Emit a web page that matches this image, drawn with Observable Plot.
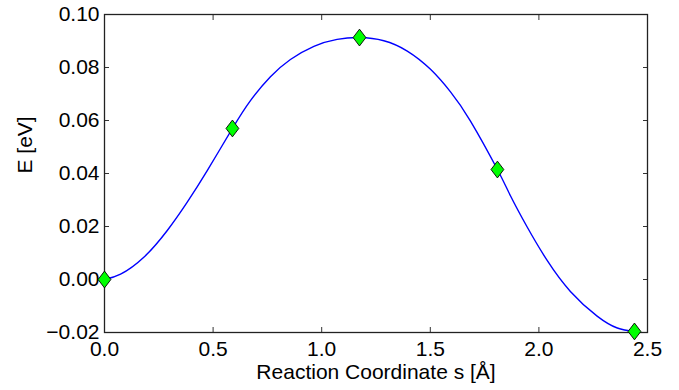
<!DOCTYPE html>
<html>
<head>
<meta charset="utf-8">
<script src="https://cdn.jsdelivr.net/npm/d3@7"></script>
<script src="https://cdn.jsdelivr.net/npm/@observablehq/plot@0.6"></script>
<style>
  html, body { margin: 0; padding: 0; background: #fff; }
  #chart svg { display: block; }
</style>
</head>
<body>
<div id="chart"></div>
<script>
// NEB images
const imageS = [0, 0.589, 1.174, 1.809, 2.44];
const imageE = [0, 0.057, 0.0913, 0.0415, -0.0196];
// interpolated energy path
const curveS = [0.074, 0.181, 0.289, 0.381, 0.473, 0.672, 0.764, 0.856, 0.964, 1.071, 1.286, 1.394, 1.501, 1.593, 1.685, 1.869, 1.946, 2.038, 2.145, 2.268, 2.361];
const curveE = [0.0020, 0.0084, 0.0185, 0.0292, 0.0411, 0.0675, 0.0765, 0.0830, 0.0880, 0.0906, 0.0901, 0.0862, 0.0793, 0.0708, 0.0598, 0.0316, 0.0198, 0.0072, -0.0045, -0.0138, -0.0183];
const xTicks = [0, 0.5, 1.0, 1.5, 2.0, 2.5];
const yTicks = [-0.02, 0, 0.02, 0.04, 0.06, 0.08, 0.10];
const xLabel = "Reaction Coordinate s [Å]";
const yLabel = "E [eV]";

const images = imageS.map((s, i) => ({s, e: imageE[i]}));
const path = images.concat(curveS.map((s, i) => ({s, e: curveE[i]})))
  .sort((a, b) => a.s - b.s);

const diamond = {
  draw(ctx, size) {
    const w = 6.4, h = 8.4;
    ctx.moveTo(0, -h); ctx.lineTo(w, 0); ctx.lineTo(0, h); ctx.lineTo(-w, 0); ctx.closePath();
  }
};

const FONT = "'Liberation Sans', Arial, Helvetica, sans-serif";
const chart = Plot.plot({
  width: 679,
  height: 390,
  marginLeft: 104,
  marginRight: 32,
  marginTop: 14,
  marginBottom: 58,
  style: {fontFamily: FONT, fontSize: "21px", color: "#000", background: "#fff"},
  x: {domain: [0, 2.5]},
  y: {domain: [-0.02, 0.10]},
  marks: [
    Plot.axisX({anchor: "bottom", ticks: xTicks, tickSize: -5, tickPadding: 14, tickFormat: d3.format(".1f"), label: null, stroke: "#333", fontSize: 21}),
    Plot.axisX({anchor: "top", ticks: xTicks, tickSize: -5, tickFormat: () => "", label: null, stroke: "#333"}),
    Plot.axisY({anchor: "left", ticks: yTicks, tickSize: -5, tickPadding: 10, tickFormat: d3.format(".2f"), label: null, stroke: "#333", fontSize: 21}),
    Plot.axisY({anchor: "right", ticks: yTicks, tickSize: -5, tickFormat: () => "", label: null, stroke: "#333"}),
    Plot.frame({stroke: "#222", strokeWidth: 1.3}),
    Plot.line(path, {x: "s", y: "e", curve: "natural", stroke: "#0000ff", strokeWidth: 1.4}),
    Plot.dot(images, {x: "s", y: "e", symbol: diamond, fill: "#00ff00", stroke: "#000", strokeWidth: 0.9, r: 7}),
    Plot.text([xLabel], {frameAnchor: "bottom", dy: 46, fontSize: 21, fill: "#000"}),
    Plot.text([yLabel], {frameAnchor: "left", dx: -79, rotate: -90, fontSize: 21, fill: "#000"})
  ]
});
document.getElementById("chart").append(chart);
</script>
</body>
</html>
